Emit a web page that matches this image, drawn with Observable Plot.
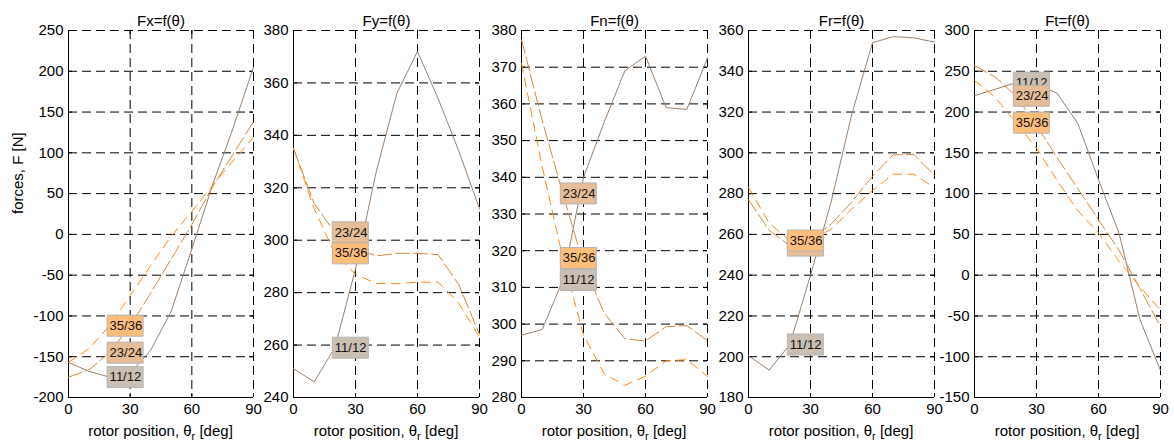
<!DOCTYPE html>
<html><head><meta charset="utf-8">
<script src="https://cdn.jsdelivr.net/npm/d3@7"></script>
<script src="https://cdn.jsdelivr.net/npm/@observablehq/plot@0.6"></script>
<style>
body{margin:0;background:#fff;}
#chart{position:relative;width:1174px;height:443px;background:#fff;}
#chart svg{position:absolute;top:0;overflow:visible;}
</style></head><body><div id="chart"></div>
<script>
// ---------- data ----------
const theta = [0, 10, 20, 30, 40, 50, 60, 70, 80, 90];
const seriesNames = ["11/12", "23/24", "35/36"];
const labelAngle = 20;
const xTicks = [0, 30, 60, 90];

const titles = ["Fx=f(\u03b8)", "Fy=f(\u03b8)", "Fn=f(\u03b8)", "Fr=f(\u03b8)", "Ft=f(\u03b8)"];

const fxTicks = [-200, -150, -100, -50, 0, 50, 100, 150, 200, 250];
const fyTicks = [240, 260, 280, 300, 320, 340, 360, 380];
const fnTicks = [280, 290, 300, 310, 320, 330, 340, 350, 360, 370, 380];
const frTicks = [180, 200, 220, 240, 260, 280, 300, 320, 340, 360];
const ftTicks = [-150, -100, -50, 0, 50, 100, 150, 200, 250, 300];

const fx_11_12 = [-157, -168, -175, -170, -142, -94, -18, 60, 130, 205];
const fx_23_24 = [-175, -166, -145, -112, -72, -30, 12, 58, 98, 138];
const fx_35_36 = [-157, -140, -112, -75, -38, -2, 28, 60, 90, 119];

const fy_11_12 = [251, 246, 259, 289, 326, 356, 372, 354, 334, 312];
const fy_23_24 = [335, 314, 303, 297, 294, 295, 295, 294.5, 283, 264];
const fy_35_36 = [335, 312, 295, 287, 283.5, 283.4, 284, 284, 276, 263];

const fn_11_12 = [297, 298.5, 312, 340, 355, 369, 373, 359, 358.5, 372.5];
const fn_23_24 = [377.5, 355.5, 335.6, 316.3, 303, 296, 295.4, 299.3, 299.6, 295.5];
const fn_35_36 = [371, 343, 318, 297, 286.5, 283.3, 285.8, 290, 290.3, 285.7];

const fr_11_12 = [200.5, 193.4, 206, 240, 276, 319, 354, 357, 356.4, 354.3];
const fr_23_24 = [277, 262, 254.5, 258, 265, 276, 288.5, 299, 299.2, 289];
const fr_35_36 = [283, 265.5, 257, 257, 262.5, 272.5, 281.5, 289.5, 289.5, 283];

const ft_11_12 = [220, 228, 236, 234, 223, 186, 117, 51, -54, -117];
const ft_23_24 = [257, 243, 220, 184, 144, 106, 68, 30, -16, -63];
const ft_35_36 = [239, 218, 187, 156, 116, 79, 52, 17, -14, -43];

// ---------- styles ----------
const lineColors = ["#9c8069", "#d6883a", "#ff8a12"];
const boxColors = ["#cbbfb4", "#e6bd96", "#ffbd7a"];
const dashes = [null, "14,4", "9,6"];
const FONT = "'Liberation Sans', Arial, sans-serif";

const panels = [
  {title: titles[0], ticks: fxTicks, series: [fx_11_12, fx_23_24, fx_35_36], left: 68, right: 253},
  {title: titles[1], ticks: fyTicks, series: [fy_11_12, fy_23_24, fy_35_36], left: 293, right: 479},
  {title: titles[2], ticks: fnTicks, series: [fn_11_12, fn_23_24, fn_35_36], left: 521, right: 707},
  {title: titles[3], ticks: frTicks, series: [fr_11_12, fr_23_24, fr_35_36], left: 748, right: 934},
  {title: titles[4], ticks: ftTicks, series: [ft_11_12, ft_23_24, ft_35_36], left: 974, right: 1160}
];

const boxSymbol = {draw(ctx) { ctx.rect(-2.5, -10.5, 36, 21); }};

const chart = document.getElementById("chart");
const TOP = 30, BOTTOM = 397, H = 443;

panels.forEach((p, idx) => {
  const ml = idx === 0 ? p.left : 45;
  const mr = 14;
  const plotW = p.right - p.left;
  const plotH = BOTTOM - TOP;
  const W = ml + plotW + mr;
  const yMin = p.ticks[0], yMax = p.ticks[p.ticks.length - 1];

  const rows = [];
  p.series.forEach((vals, s) => vals.forEach((v, i) => rows.push({theta: theta[i], F: v, s: seriesNames[s]})));
  const li = theta.indexOf(labelAngle);
  const labels = p.series.map((vals, s) => ({theta: labelAngle, F: vals[li], s: seriesNames[s]}));

  const marks = [
    Plot.ruleY(p.ticks.slice(1), {y: d => d, stroke: "#000", strokeDasharray: "9,5"}),
    Plot.ruleX(xTicks.slice(1), {x: d => d, stroke: "#000", strokeDasharray: "9,5"}),
    Plot.tickY(p.ticks, {y: d => d, stroke: "#000", insetRight: plotW - 4}),
    Plot.tickY(p.ticks, {y: d => d, stroke: "#000", insetLeft: plotW - 4}),
    Plot.tickX(xTicks, {x: d => d, stroke: "#000", insetTop: plotH - 4}),
    Plot.tickX(xTicks, {x: d => d, stroke: "#000", insetBottom: plotH - 4}),
    Plot.ruleX([0], {stroke: "#000"}),
    Plot.ruleY([yMin], {stroke: "#000"}),
    ...seriesNames.map((name, s) => Plot.line(rows.filter(r => r.s === name), {
      x: "theta", y: "F", stroke: lineColors[s], strokeWidth: 1,
      strokeDasharray: dashes[s] || undefined
    })),
    ...seriesNames.flatMap((name, s) => [
      Plot.dot([labels[s]], {x: "theta", y: "F", symbol: boxSymbol, fill: boxColors[s], stroke: "#b4b4b4", strokeWidth: 1}),
      Plot.text([labels[s]], {x: "theta", y: "F", text: "s", textAnchor: "start", fontSize: 13, fill: "#111"})
    ]),
    Plot.axisX({ticks: xTicks, tickSize: 0, tickPadding: 6, tickFormat: d => String(d), label: null, fontSize: 15}),
    Plot.axisY({ticks: p.ticks, tickSize: 0, tickPadding: 5, tickFormat: d => String(d), label: null, fontSize: 15}),
    Plot.text([p.title], {frameAnchor: "top", dy: -15, fontSize: 15, fill: "#000"})
  ];
  if (idx === 0) {
    marks.push(Plot.text(["forces, F [N]"], {frameAnchor: "left", dx: -50, rotate: -90, fontSize: 15, fill: "#000"}));
  }

  const svg = Plot.plot({
    width: W, height: H,
    marginLeft: ml, marginRight: mr, marginTop: TOP, marginBottom: H - BOTTOM,
    style: {fontFamily: FONT, fontSize: "15px", color: "#000", background: "transparent", overflow: "visible"},
    x: {domain: [0, 90]},
    y: {domain: [yMin, yMax]},
    marks
  });
  svg.style.left = (p.left - ml) + "px";

  const t = d3.select(svg).append("text")
    .attr("x", ml + plotW / 2).attr("y", 436)
    .attr("text-anchor", "middle").attr("font-size", 15).attr("fill", "#000");
  t.append("tspan").text("rotor position, \u03b8");
  t.append("tspan").attr("font-size", 11).attr("dy", 4).text("r");
  t.append("tspan").attr("dy", -4).text(" [deg]");

  chart.appendChild(svg);
});
</script>
</body></html>
